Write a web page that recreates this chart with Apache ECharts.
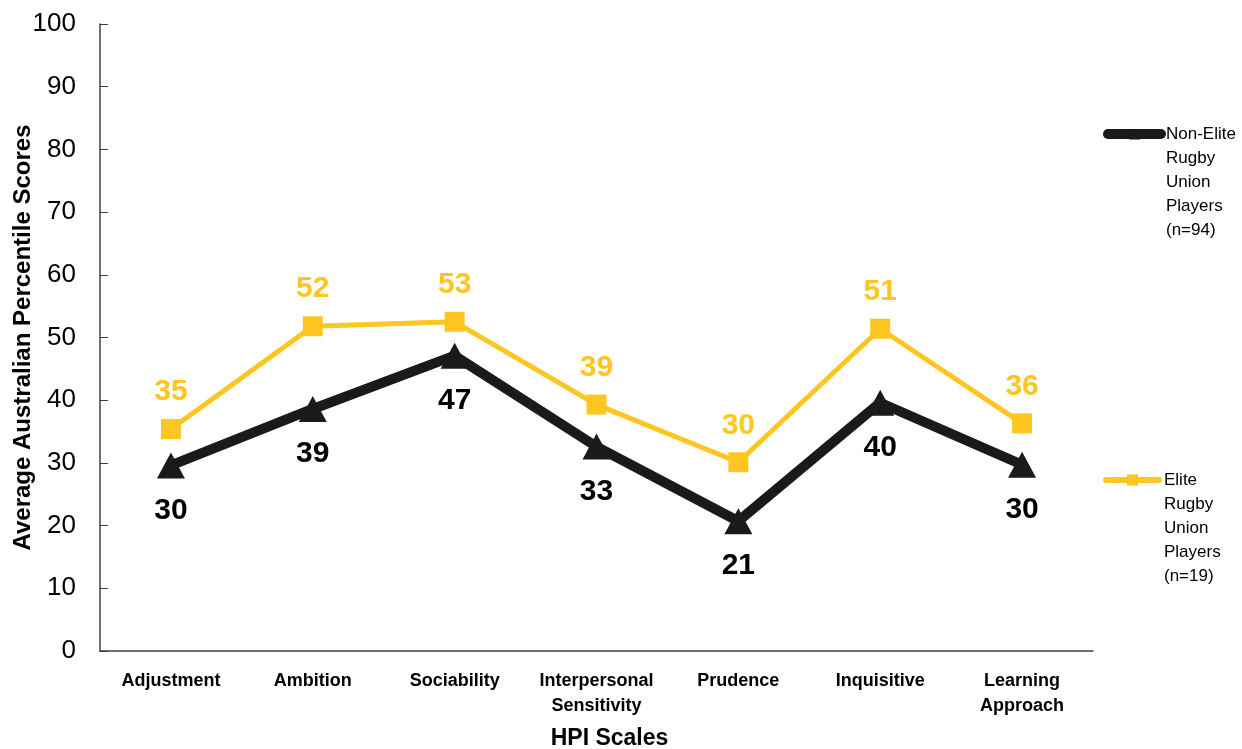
<!DOCTYPE html>
<html>
<head>
<meta charset="utf-8">
<script src="https://cdn.jsdelivr.net/npm/echarts@6/dist/echarts.min.js"></script>
<style>
  html, body { margin: 0; padding: 0; background: #fff; }
  #main { width: 1242px; height: 749px; }
</style>
</head>
<body>
<div id="main"></div>
<script>
// HPI 量表类别
var scales = ['Adjustment', 'Ambition', 'Sociability', 'Interpersonal\nSensitivity',
              'Prudence', 'Inquisitive', 'Learning\nApproach'];
// 非精英球员
var nonElite = [29.6, 38.6, 47.1, 32.6, 20.7, 39.6, 29.7];
// 精英球员
var elite = [35.4, 51.8, 52.5, 39.3, 30.1, 51.4, 36.3];
var yTicks = [0, 10, 20, 30, 40, 50, 60, 70, 80, 90, 100];

var nonEliteName = 'Non-Elite\nRugby\nUnion\nPlayers\n(n=94)';
var eliteName = 'Elite\nRugby\nUnion\nPlayers\n(n=19)';

var font = 'Liberation Sans, Arial, sans-serif';
var black = '#1a1a1a';
var gold = '#ffc520';

// 图例文字：前面补空行，让图标对齐第一行
function legendText(name) {
    return '\n\n\n\n' + name;
}

var chart = echarts.init(document.getElementById('main'));
chart.setOption({
    animation: false,
    textStyle: { fontFamily: font },
    grid: { left: 100, right: 149, top: 24, bottom: 98, outerBoundsMode: 'none', containLabel: false },
    legend: [
        {
            data: [nonEliteName],
            orient: 'vertical',
            left: 1098,
            top: 21,
            itemWidth: 53,
            itemHeight: 14,
            selectedMode: false,
            formatter: legendText,
            lineStyle: { width: 10, cap: 'round' },
            textStyle: { fontFamily: font, fontSize: 17, lineHeight: 24, color: '#000' }
        },
        {
            data: [eliteName],
            orient: 'vertical',
            left: 1098,
            top: 367,
            itemWidth: 53,
            itemHeight: 14,
            selectedMode: false,
            formatter: legendText,
            lineStyle: { width: 6, cap: 'round' },
            textStyle: { fontFamily: font, fontSize: 17, lineHeight: 24, color: '#000' }
        }
    ],
    xAxis: {
        type: 'category',
        data: scales,
        name: 'HPI Scales',
        nameLocation: 'middle',
        nameGap: 76,
        nameMoveOverlap: false,
        nameTextStyle: { fontFamily: font, fontSize: 23, fontWeight: 'bold', color: '#000', padding: [0, 0, 0, 26] },
        axisLine: { lineStyle: { color: '#404040', width: 1.5 } },
        axisTick: { inside: true, length: 6, lineStyle: { color: '#404040' } },
        axisLabel: { interval: 0, margin: 18, fontFamily: font, fontSize: 18, fontWeight: 'bold', lineHeight: 25, color: '#000' }
    },
    yAxis: {
        type: 'value',
        min: yTicks[0],
        max: yTicks[yTicks.length - 1],
        interval: 10,
        name: 'Average Australian Percentile Scores',
        nameLocation: 'middle',
        nameGap: 65,
        nameMoveOverlap: false,
        nameTextStyle: { fontFamily: font, fontSize: 24, fontWeight: 'bold', color: '#000' },
        axisLine: { show: true, lineStyle: { color: '#404040', width: 1.5 } },
        axisTick: { show: true, inside: true, length: 8, lineStyle: { color: '#404040' } },
        splitLine: { show: false },
        axisLabel: { margin: 24, fontFamily: font, fontSize: 26, color: '#000' }
    },
    series: [
        {
            name: nonEliteName,
            type: 'line',
            data: nonElite,
            symbol: 'triangle',
            symbolSize: [28, 26],
            itemStyle: { color: black },
            lineStyle: { color: black, width: 10 },
            z: 3,
            label: {
                show: true,
                position: 'bottom',
                distance: 17,
                fontFamily: font,
                fontSize: 30,
                fontWeight: 'bold',
                color: '#000',
                formatter: function (p) { return Math.round(p.value); }
            }
        },
        {
            name: eliteName,
            type: 'line',
            data: elite,
            symbol: 'rect',
            symbolSize: 20,
            itemStyle: { color: gold },
            lineStyle: { color: gold, width: 5 },
            z: 2,
            label: {
                show: true,
                position: 'top',
                distance: 12,
                fontFamily: font,
                fontSize: 30,
                fontWeight: 'bold',
                color: gold,
                formatter: function (p) { return Math.round(p.value); }
            }
        }
    ]
});
</script>
</body>
</html>
